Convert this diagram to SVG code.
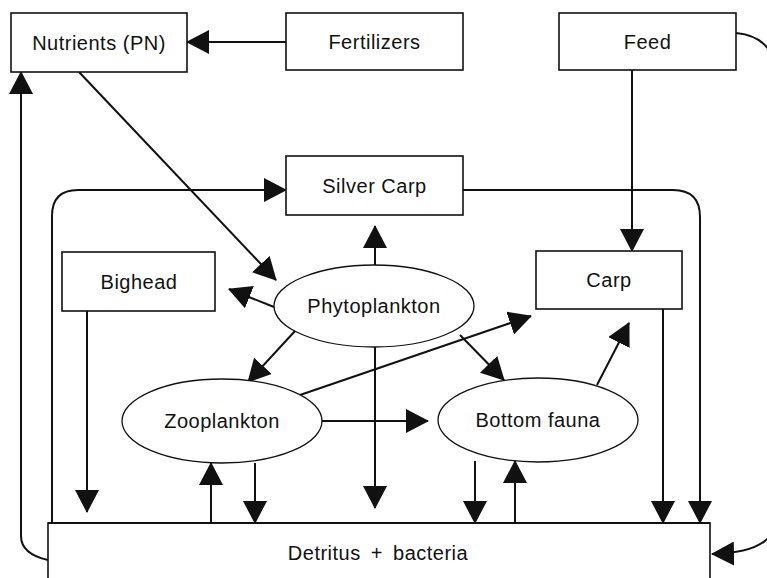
<svg xmlns="http://www.w3.org/2000/svg" width="767" height="578" viewBox="0 0 767 578">
  <style>
    .box { fill: #fff; stroke: #111; stroke-width: 1.6; }
    .oval { fill: #fff; stroke: #111; stroke-width: 1.3; }
    .lbl { font-family: "Liberation Sans", Arial, sans-serif; font-size: 20px; letter-spacing: 0.5px; fill: #111; text-anchor: middle; }
    .flow { fill: none; stroke: #111; stroke-width: 2; marker-end: url(#head); }
    .plain { fill: none; stroke: #111; stroke-width: 2; }
  </style>
  <defs>
    <marker id="head" markerUnits="userSpaceOnUse" markerWidth="23" markerHeight="24" viewBox="0 0 23 24" refX="22" refY="12" orient="auto">
      <path d="M0,0 L23,12 L0,24 Z" fill="#111"/>
    </marker>
  </defs>

  <rect width="767" height="578" fill="#fff"/>

  <!-- connectors -->
  <g id="connectors">
    <!-- inputs -->
    <line class="flow" x1="286" y1="42" x2="187" y2="42"/>
    <line class="flow" x1="632" y1="70" x2="632" y2="251"/>
    <line class="flow" x1="79" y1="72" x2="276" y2="280"/>
    <!-- feed bypass to detritus (runs past the right edge) -->
    <path class="flow" d="M736,33 C770,36 780,60 780,100 L780,500 C780,540 760,553 712,554"/>
    <!-- detritus recycled to nutrients -->
    <path class="flow" d="M48,560 C30,556 21,548 21,536 L21,72"/>
    <!-- silver carp loop -->
    <path class="flow" d="M52,523 L52,216 Q52,190 78,190 L286,190"/>
    <path class="flow" d="M463,190 L673,190 Q700,190 700,217 L700,523"/>
    <!-- phytoplankton -->
    <line class="flow" x1="375" y1="265" x2="375" y2="226"/>
    <line class="flow" x1="274" y1="307" x2="229" y2="289"/>
    <line class="flow" x1="295" y1="331" x2="248" y2="382"/>
    <line class="flow" x1="460" y1="335" x2="504" y2="380"/>
    <line class="flow" x1="375" y1="346" x2="375" y2="508"/>
    <!-- zooplankton -->
    <line class="flow" x1="300" y1="395" x2="531" y2="316"/>
    <line class="flow" x1="322" y1="421" x2="428" y2="421"/>
    <line class="flow" x1="255" y1="463" x2="255" y2="523"/>
    <line class="flow" x1="211" y1="523" x2="211" y2="463"/>
    <!-- bottom fauna -->
    <line class="flow" x1="597" y1="385" x2="629" y2="323"/>
    <line class="flow" x1="475" y1="461" x2="475" y2="523"/>
    <line class="flow" x1="515" y1="523" x2="515" y2="461"/>
    <!-- fish to detritus -->
    <line class="flow" x1="87" y1="311" x2="87" y2="512"/>
    <line class="flow" x1="663" y1="309" x2="663" y2="523"/>
  </g>

  <!-- nodes -->
  <g id="nutrients">
    <rect class="box" x="11" y="13" width="176" height="59"/>
    <text class="lbl" x="99" y="50">Nutrients (PN)</text>
  </g>
  <g id="fertilizers">
    <rect class="box" x="286" y="13" width="177" height="57"/>
    <text class="lbl" x="374.5" y="49">Fertilizers</text>
  </g>
  <g id="feed">
    <rect class="box" x="559" y="13" width="177" height="57"/>
    <text class="lbl" x="647.5" y="49">Feed</text>
  </g>
  <g id="silver-carp">
    <rect class="box" x="286" y="156" width="177" height="59"/>
    <text class="lbl" x="374.5" y="193">Silver Carp</text>
  </g>
  <g id="bighead">
    <rect class="box" x="62" y="252" width="153" height="59"/>
    <text class="lbl" x="139" y="289">Bighead</text>
  </g>
  <g id="carp">
    <rect class="box" x="536" y="251" width="146" height="58"/>
    <text class="lbl" x="609" y="287">Carp</text>
  </g>
  <g id="phytoplankton">
    <ellipse class="oval" cx="374" cy="306" rx="100" ry="41"/>
    <text class="lbl" x="374" y="313">Phytoplankton</text>
  </g>
  <g id="zooplankton">
    <ellipse class="oval" cx="222" cy="421" rx="100" ry="42"/>
    <text class="lbl" x="222" y="428">Zooplankton</text>
  </g>
  <g id="bottom-fauna">
    <ellipse class="oval" cx="538" cy="420" rx="100" ry="42"/>
    <text class="lbl" x="538" y="427">Bottom fauna</text>
  </g>
  <g id="detritus">
    <rect class="box" x="48" y="523" width="662" height="80"/>
    <line class="plain" x1="48" y1="523" x2="710" y2="523"/>
    <text class="lbl" x="378" y="560" word-spacing="4">Detritus + bacteria</text>
  </g>
</svg>
